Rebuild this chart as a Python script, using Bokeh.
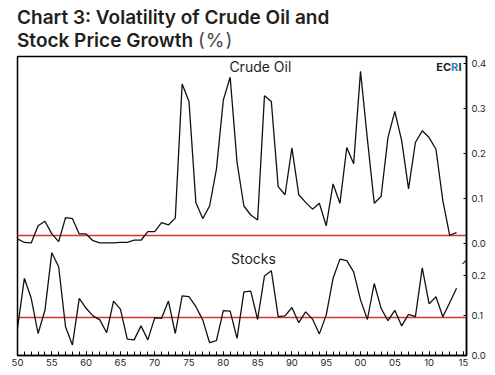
from bokeh.plotting import figure
from bokeh.models import (Range1d, FixedTicker, CustomJSTickFormatter, Label, Div)
from bokeh.layouts import column
from bokeh.embed import file_html
from bokeh.resources import INLINE

# ---------------- data ----------------
years = list(range(1950, 2015))
crude = [0.011, 0.003, 0.002, 0.040, 0.050, 0.022, 0.005, 0.058, 0.056, 0.022,
         0.022, 0.007, 0.002, 0.002, 0.002, 0.003, 0.003, 0.008, 0.008, 0.027,
         0.027, 0.047, 0.042, 0.057, 0.355, 0.316, 0.092, 0.056, 0.084, 0.166,
         0.319, 0.370, 0.181, 0.084, 0.064, 0.053, 0.329, 0.316, 0.127, 0.109,
         0.213, 0.109, 0.092, 0.077, 0.090, 0.040, 0.133, 0.090, 0.214, 0.178,
         0.383, 0.233, 0.090, 0.105, 0.236, 0.294, 0.229, 0.122, 0.225, 0.251,
         0.236, 0.210, 0.096, 0.019, 0.025]
stocks = [0.067, 0.192, 0.142, 0.054, 0.112, 0.256, 0.221, 0.071, 0.025, 0.142,
          0.117, 0.098, 0.088, 0.056, 0.135, 0.115, 0.040, 0.038, 0.073, 0.038,
          0.093, 0.092, 0.135, 0.054, 0.148, 0.146, 0.121, 0.088, 0.031, 0.036,
          0.111, 0.110, 0.042, 0.158, 0.160, 0.089, 0.198, 0.211, 0.096, 0.098,
          0.119, 0.081, 0.108, 0.090, 0.053, 0.100, 0.192, 0.240, 0.236, 0.208,
          0.138, 0.089, 0.179, 0.117, 0.086, 0.112, 0.073, 0.102, 0.096, 0.218,
          0.128, 0.146, 0.096, 0.131, 0.167]
crude_ref = 0.018
stock_ref = 0.094
crude_ticks = [0.0, 0.1, 0.2, 0.3, 0.4]
stock_ticks = [0.0, 0.1, 0.2]
year_ticks = list(range(1950, 2016, 5))
year_labels = ["50", "55", "60", "65", "70", "75", "80", "85", "90", "95",
               "00", "05", "10", "15"]

# ---------------- styling ----------------
FONT = "Inter"
TXT = "#231f20"
RED = "#d7342b"

c0, c1 = -0.248, 0.416      # crude oil scale (primary)
s0, s1 = -0.001, 0.7465     # stocks scale (secondary)


def stock_to_crude(v):
    return c0 + (v - s0) / (s1 - s0) * (c1 - c0)


title = Div(
    text=(f'<div style="font-family:{FONT};font-weight:600;font-size:19px;'
          f'line-height:23px;color:{TXT};margin-left:17px;margin-top:6px;'
          f'white-space:nowrap">Chart 3: Volatility of Crude Oil and<br>'
          f'Stock Price Growth <span style="font-weight:400;color:#4a4a4a;'
          f'letter-spacing:1px">(%)</span></div>'),
    width=495, height=48, margin=(0, 0, 0, 0))

p = figure(width=495, height=327, output_backend="svg", toolbar_location=None,
           x_range=Range1d(1950, 2015.45), y_range=Range1d(c0, c1),
           y_axis_location="right", min_border_top=8, min_border_left=17,
           min_border_right=29, min_border_bottom=20)
p.extra_y_ranges = {"stocks": Range1d(s0, s1)}
p.xgrid.visible = False
p.ygrid.visible = False
p.outline_line_color = "black"
p.outline_line_width = 1.5

# reference lines
p.hspan(y=[crude_ref], line_color=RED, line_width=1.3)
p.hspan(y=[stock_ref], line_color=RED, line_width=1.3, y_range_name="stocks")

# series
p.line(years, crude, line_color="#111111", line_width=1.3)
p.line(years, stocks, line_color="#111111", line_width=1.3, y_range_name="stocks")

# x axis
xa = p.xaxis[0]
xa.ticker = FixedTicker(ticks=year_ticks, minor_ticks=years + [2015])
xa.major_label_overrides = {y: lab for y, lab in zip(year_ticks, year_labels)}
xa.major_tick_in = 4
xa.major_tick_out = 0
xa.minor_tick_in = 4
xa.minor_tick_out = 0
xa.axis_line_color = "black"
xa.axis_line_width = 1.5
xa.major_tick_line_color = "black"
xa.minor_tick_line_color = "black"
xa.major_label_standoff = 3
xa.major_label_text_font = FONT
xa.major_label_text_font_size = "9.5px"
xa.major_label_text_color = TXT

# right axis (shared for both scales)
ya = p.yaxis[0]
ya.ticker = FixedTicker(ticks=crude_ticks + [stock_to_crude(v) for v in stock_ticks])
ya.formatter = CustomJSTickFormatter(args=dict(c0=c0, c1=c1, s0=s0, s1=s1), code="""
    if (tick > -0.01) return tick.toFixed(1);
    const s = s0 + (tick - c0) / (c1 - c0) * (s1 - s0);
    return Math.abs(s).toFixed(1);
""")
ya.major_tick_in = 3
ya.major_tick_out = 0
ya.minor_tick_line_color = None
ya.axis_line_color = "black"
ya.axis_line_width = 1.5
ya.major_tick_line_color = "black"
ya.major_label_standoff = 5
ya.major_label_text_font = FONT
ya.major_label_text_font_size = "9.5px"
ya.major_label_text_color = TXT

# panel labels
p.add_layout(Label(x=1985.4, y=0.393, text="Crude Oil", text_font=FONT,
                   text_font_size="14px", text_color=TXT, text_align="center",
                   text_baseline="middle"))
p.add_layout(Label(x=1984.4, y=0.241, y_range_name="stocks", text="Stocks",
                   text_font=FONT, text_font_size="14px", text_color=TXT,
                   text_align="center", text_baseline="middle"))

# ECRI mark
p.add_layout(Label(x=2013.2, y=0.393, text="EC", text_font=FONT, text_font_style="bold",
                   text_font_size="11px", text_color=TXT, text_align="right",
                   text_baseline="middle"))
p.add_layout(Label(x=2013.2, y=0.393, text="R", text_font=FONT, text_font_style="bold",
                   text_font_size="11px", text_color="#1e88cf", text_align="left",
                   text_baseline="middle"))
p.add_layout(Label(x=2014.3, y=0.393, text="I", text_font=FONT, text_font_style="bold",
                   text_font_size="11px", text_color=TXT, text_align="left",
                   text_baseline="middle"))

# axis break mark
p.add_layout(Label(x=2015.45, y=stock_to_crude(0.2) / 2, text="/", text_font=FONT,
                   text_font_size="12px", text_color="black", text_align="center",
                   text_baseline="middle", angle=-0.5))

layout = column(title, p, spacing=0)
open("out.html", "w").write(file_html(layout, INLINE))
